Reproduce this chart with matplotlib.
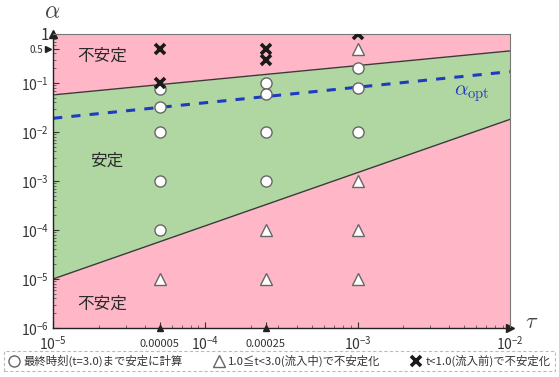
import matplotlib
matplotlib.use("Agg")
import matplotlib.pyplot as plt
import matplotlib.transforms as mtransforms
from matplotlib.ticker import LogLocator, NullFormatter

plt.rcParams['font.family'] = ['Noto Sans CJK JP', 'DejaVu Sans']
plt.rcParams['mathtext.fontset'] = 'cm'

# Stability-region boundaries (straight lines on log-log axes)
tau_edge = [1e-5, 1e-2]
alpha_upper = [0.057, 0.45]
alpha_lower = [1e-5, 0.018]
alpha_opt = [0.019, 0.17]

# Computed cases
stable_tau = [5e-5, 5e-5, 5e-5, 5e-5, 5e-5, 2.5e-4, 2.5e-4, 2.5e-4, 2.5e-4, 1e-3, 1e-3, 1e-3]
stable_alpha = [0.075, 0.032, 0.01, 1e-3, 1e-4, 0.1, 0.06, 0.01, 1e-3, 0.2, 0.08, 0.01]
inflow_tau = [5e-5, 2.5e-4, 2.5e-4, 1e-3, 1e-3, 1e-3, 1e-3]
inflow_alpha = [1e-5, 1e-4, 1e-5, 0.5, 1e-3, 1e-4, 1e-5]
early_tau = [5e-5, 5e-5, 2.5e-4, 2.5e-4, 1e-3]
early_alpha = [0.5, 0.1, 0.5, 0.3, 1.0]

xtick_vals = [1e-5, 5e-5, 1e-4, 2.5e-4, 1e-3, 1e-2]
xtick_text = [r'$\mathregular{10^{-5}}$', '0.00005', r'$\mathregular{10^{-4}}$', '0.00025',
              r'$\mathregular{10^{-3}}$', r'$\mathregular{10^{-2}}$']
ytick_vals = [1e-6, 1e-5, 1e-4, 1e-3, 1e-2, 1e-1, 0.5, 1]
ytick_text = [r'$\mathregular{10^{-6}}$', r'$\mathregular{10^{-5}}$', r'$\mathregular{10^{-4}}$',
              r'$\mathregular{10^{-3}}$', r'$\mathregular{10^{-2}}$', r'$\mathregular{10^{-1}}$', '0.5', '1']

pink = '#FFB7C7'
green = '#B0D7A2'

fig = plt.figure(figsize=(5.59, 3.77), dpi=100)
ax = fig.add_axes([0.095, 0.130, 0.817, 0.780])
ax.set_xscale('log')
ax.set_yscale('log')
ax.set_xlim(1e-5, 1e-2)
ax.set_ylim(1e-6, 1)

ax.fill_between(tau_edge, alpha_upper, [1, 1], color=pink, lw=0, zorder=0)
ax.fill_between(tau_edge, alpha_lower, alpha_upper, color=green, lw=0, zorder=0)
ax.fill_between(tau_edge, [1e-6, 1e-6], alpha_lower, color=pink, lw=0, zorder=0)
ax.plot(tau_edge, alpha_upper, color='#3a3a3a', lw=1.0, zorder=1)
ax.plot(tau_edge, alpha_lower, color='#3a3a3a', lw=1.0, zorder=1)
ax.plot(tau_edge, alpha_opt, color='#1f3cc0', lw=2.2, ls=(0, (3, 3)), zorder=2)

ms = 8
ax.plot(stable_tau, stable_alpha, 'o', ms=ms, mfc='white', mec='#666666', mew=1.0, ls='none', zorder=4,
        label='最終時刻(t=3.0)まで安定に計算')
ax.plot(inflow_tau, inflow_alpha, '^', ms=ms, mfc='white', mec='#666666', mew=1.0, ls='none', zorder=4,
        label='1.0≦t<3.0(流入中)で不安定化')
ax.plot(early_tau, early_alpha, 'x', ms=7, mec='#1a1a1a', mew=2.6, ls='none', zorder=5,
        label='t<1.0(流入前)で不安定化')

# region labels
ax.text(1.45e-5, 0.35, '不安定', fontsize=12, color='#2a2a2a', va='center')
ax.text(1.75e-5, 2.5e-3, '安定', fontsize=12, color='#2a2a2a', va='center')
ax.text(1.45e-5, 3.0e-6, '不安定', fontsize=12, color='#2a2a2a', va='center')
ax.text(4.3e-3, 0.062, r'$\alpha_{\rm opt}$', fontsize=15, color='#1f3cc0', va='center')

# ticks
ax.set_xticks(xtick_vals)
ax.set_xticklabels(xtick_text)
ax.set_yticks(ytick_vals)
ax.set_yticklabels(ytick_text)
ax.xaxis.set_minor_locator(LogLocator(base=10, subs=range(2, 10), numticks=20))
ax.yaxis.set_minor_locator(LogLocator(base=10, subs=range(2, 10), numticks=20))
ax.xaxis.set_minor_formatter(NullFormatter())
ax.yaxis.set_minor_formatter(NullFormatter())
ax.tick_params(axis='both', which='major', direction='in', length=4, width=0.8, labelsize=10, colors='#333333')
ax.tick_params(axis='both', which='minor', direction='in', length=2, width=0.6, colors='#555555')
ax.tick_params(axis='x', pad=5)
ax.tick_params(axis='y', pad=3)
for lbl, v in zip(ax.get_xticklabels(), xtick_vals):
    if v in (5e-5, 2.5e-4):
        lbl.set_fontsize(8)
        lbl.set_y(-0.015)
    lbl.set_color('#333333')
for lbl, v in zip(ax.get_yticklabels(), ytick_vals):
    if v == 0.5:
        lbl.set_fontsize(7)
        lbl.set_x(-0.012)
    if v == 1:
        lbl.set_fontsize(11)

for side in ('top', 'right'):
    ax.spines[side].set_color('#777777')
    ax.spines[side].set_linewidth(0.8)
for side in ('left', 'bottom'):
    ax.spines[side].set_color('#222222')
    ax.spines[side].set_linewidth(1.0)

# axis arrows
ax.plot(1, 0, '>', color='#222222', ms=6, transform=ax.transAxes, clip_on=False)
ax.plot(0, 1, '^', color='#222222', ms=6, transform=ax.transAxes, clip_on=False)
# pointer markers for the non-decade ticks
ax.plot([5e-5, 2.5e-4], [1e-6, 1e-6], '^', color='#222222', ms=5, clip_on=False, zorder=6)
shift = mtransforms.offset_copy(ax.transData, fig=fig, x=-3.5, y=0, units='points')
ax.plot([1e-5], [0.5], '>', color='#222222', ms=5, clip_on=False, transform=shift, zorder=6)

fig.text(52 / 559, 1 - 12 / 377, r'$\alpha$', fontsize=17, ha='center', va='center', color='#444444')
fig.text(532 / 559, 1 - 322 / 377, r'$\tau$', fontsize=16, ha='center', va='center', color='#444444')

leg = fig.legend(loc='lower left', bbox_to_anchor=(0.008, 0.015, 0.984, 0.064), mode='expand',
                 ncol=3, fontsize=8.2, frameon=True, fancybox=False, handletextpad=0.3,
                 columnspacing=1.0, handlelength=1.0, borderpad=0.35, borderaxespad=0)
frame = leg.get_frame()
frame.set_linestyle((0, (3, 2)))
frame.set_edgecolor('#aaaaaa')
frame.set_linewidth(0.8)
for t in leg.get_texts():
    t.set_color('#333333')

fig.savefig('out.png', dpi=100)
